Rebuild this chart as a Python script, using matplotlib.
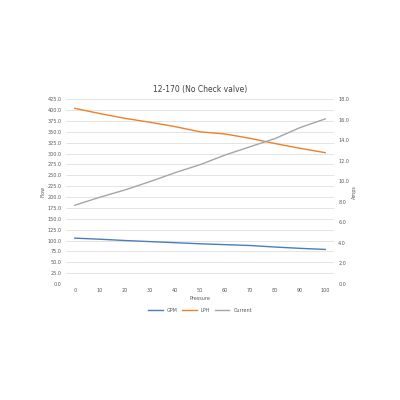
import matplotlib
matplotlib.use("Agg")
import matplotlib.pyplot as plt

pressure = [0, 10, 20, 30, 40, 50, 60, 70, 80, 90, 100]
gpm = [105.5, 103, 100, 97.5, 95, 92.5, 90.5, 88.5, 85, 82, 79.5]
lph = [404, 392, 381, 372, 362, 350, 345, 335, 323, 312, 302]
current = [7.67, 8.45, 9.16, 9.97, 10.84, 11.62, 12.56, 13.37, 14.17, 15.24, 16.08]

fig = plt.figure(figsize=(4, 4), dpi=100)
ax = fig.add_axes([0.165, 0.29, 0.67, 0.462])
ax2 = ax.twinx()

l1, = ax.plot(pressure, gpm, color="#4a7ebb", lw=1.0, label="GPM")
l2, = ax.plot(pressure, lph, color="#f07f2a", lw=1.0, label="LPH")
l3, = ax2.plot(pressure, current, color="#a5a5a5", lw=1.0, label="Current")

ax.set_ylim(0, 425)
ax.set_yticks([i * 25 for i in range(18)])
ax.set_yticklabels([f"{i * 25:.1f}" for i in range(18)])
ax2.set_ylim(0, 18)
ax2.set_yticks(range(0, 19, 2))
ax2.set_yticklabels([f"{v:.1f}" for v in range(0, 19, 2)])
ax.set_xlim(-3.5, 103.5)
ax.set_xticks(pressure)

for a in (ax, ax2):
    a.tick_params(labelsize=3.5, colors="#595959", length=0, pad=3)
    for s in a.spines.values():
        s.set_visible(False)
ax.grid(axis="y", color="#d9d9d9", lw=0.5)
ax.set_axisbelow(True)

ax.set_xlabel("Pressure", fontsize=3.5, color="#595959", labelpad=2)
ax.set_ylabel("Flow", fontsize=3.5, color="#595959", labelpad=2)
ax2.set_ylabel("Amps", fontsize=3.5, color="#595959", labelpad=2)
ax.set_title("12-170 (No Check valve)", fontsize=5.5, color="#404040", pad=5)

fig.legend(handles=[l1, l2, l3], loc="center", bbox_to_anchor=(0.5, 0.225),
           ncol=3, frameon=False, fontsize=3.5, handlelength=3, columnspacing=1,
           labelcolor="#595959")

fig.savefig("out.png", dpi=100)
